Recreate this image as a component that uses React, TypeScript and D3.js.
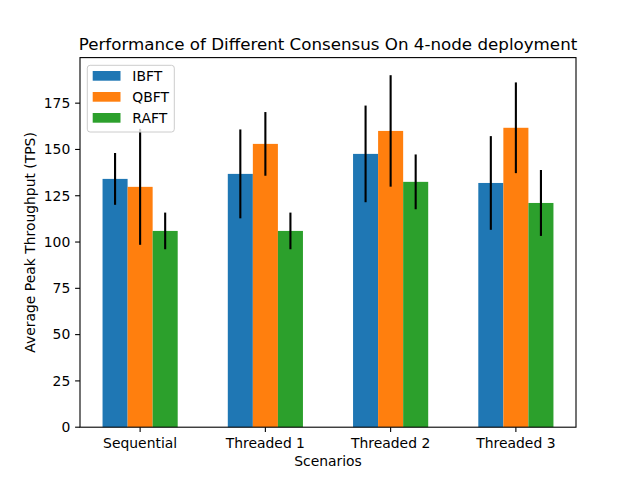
import React from "react";
import * as d3 from "d3";

// scenarios and measured peak throughput (mean +- std)
const scenarios = ["Sequential", "Threaded 1", "Threaded 2", "Threaded 3"];
const series = ["IBFT", "QBFT", "RAFT"];
const colors = ["#1f77b4", "#ff7f0e", "#2ca02c"];

const ibft = [134.1, 136.8, 147.6, 131.9];
const qbft = [129.8, 153.0, 160.0, 161.7];
const raft = [106.0, 106.0, 132.5, 121.1];

const ibftErr = [14.0, 24.0, 26.1, 25.3];
const qbftErr = [31.3, 17.2, 30.1, 24.5];
const raftErr = [9.9, 9.9, 14.8, 17.8];

const yTicks = [0, 25, 50, 75, 100, 125, 150, 175];

const values = [ibft, qbft, raft];
const errors = [ibftErr, qbftErr, raftErr];

const W = 640;
const H = 480;
const margin = { left: 80, right: 64, top: 57.6, bottom: 52.8 };
const barWidth = 0.2;

export default function App() {
  const x0 = margin.left;
  const x1 = W - margin.right;
  const y0 = H - margin.bottom;
  const y1 = margin.top;

  // matplotlib style limits (5% margins)
  const maxTop = d3.max(values.flatMap((v, i) => v.map((d, j) => d + errors[i][j]))) as number;
  const y = d3.scaleLinear().domain([0, maxTop * 1.05]).range([y0, y1]);
  const x = d3.scaleLinear().domain([-0.48, scenarios.length - 1 + 0.48]).range([x0, x1]);

  const font = "DejaVu Sans, sans-serif";

  return (
    <svg width={W} height={H} style={{ position: "absolute", left: 0, top: 0 }} fontFamily={font}>
      <rect width={W} height={H} fill="white" />

      {/* bars */}
      {values.map((vals, si) =>
        vals.map((v, ci) => {
          const cx = ci + (si - 1) * barWidth;
          return (
            <rect
              key={`b${si}-${ci}`}
              x={x(cx - barWidth / 2)}
              y={y(v)}
              width={x(cx + barWidth / 2) - x(cx - barWidth / 2)}
              height={y(0) - y(v)}
              fill={colors[si]}
            />
          );
        })
      )}

      {/* error bars */}
      {values.map((vals, si) =>
        vals.map((v, ci) => {
          const cx = x(ci + (si - 1) * barWidth);
          const e = errors[si][ci];
          return (
            <line
              key={`e${si}-${ci}`}
              x1={cx}
              x2={cx}
              y1={y(v - e)}
              y2={y(v + e)}
              stroke="black"
              strokeWidth={2.1}
            />
          );
        })
      )}

      {/* axes frame */}
      <rect x={x0} y={y1} width={x1 - x0} height={y0 - y1} fill="none" stroke="black" strokeWidth={1.1} />

      {/* y ticks */}
      {yTicks.map((t) => (
        <g key={`y${t}`}>
          <line x1={x0 - 4.9} x2={x0} y1={y(t)} y2={y(t)} stroke="black" strokeWidth={1.1} />
          <text x={x0 - 9.7} y={y(t)} dy="0.35em" textAnchor="end" fontSize={13.9}>
            {t}
          </text>
        </g>
      ))}

      {/* x ticks */}
      {scenarios.map((s, i) => (
        <g key={s}>
          <line x1={x(i)} x2={x(i)} y1={y0} y2={y0 + 4.9} stroke="black" strokeWidth={1.1} />
          <text x={x(i)} y={y0 + 20.5} textAnchor="middle" fontSize={13.9}>
            {s}
          </text>
        </g>
      ))}

      <text x={(x0 + x1) / 2} y={466} textAnchor="middle" fontSize={13.9}>
        Scenarios
      </text>
      <text
        transform={`translate(35, ${(y0 + y1) / 2}) rotate(-90)`}
        textAnchor="middle"
        fontSize={13.9}
      >
        Average Peak Throughput (TPS)
      </text>
      <text x={(x0 + x1) / 2} y={49.5} textAnchor="middle" fontSize={16.7}>
        Performance of Different Consensus On 4-node deployment
      </text>

      {/* legend */}
      <rect x={87.3} y={65.3} width={87} height={66.7} rx={2.8} fill="white" fillOpacity={0.8} stroke="#cccccc" strokeWidth={1} />
      {series.map((s, i) => (
        <g key={s}>
          <rect x={92.7} y={71 + i * 21} width={27.8} height={9.7} fill={colors[i]} />
          <text x={132.3} y={76 + i * 21} dy="0.35em" fontSize={13.9}>
            {s}
          </text>
        </g>
      ))}
    </svg>
  );
}
